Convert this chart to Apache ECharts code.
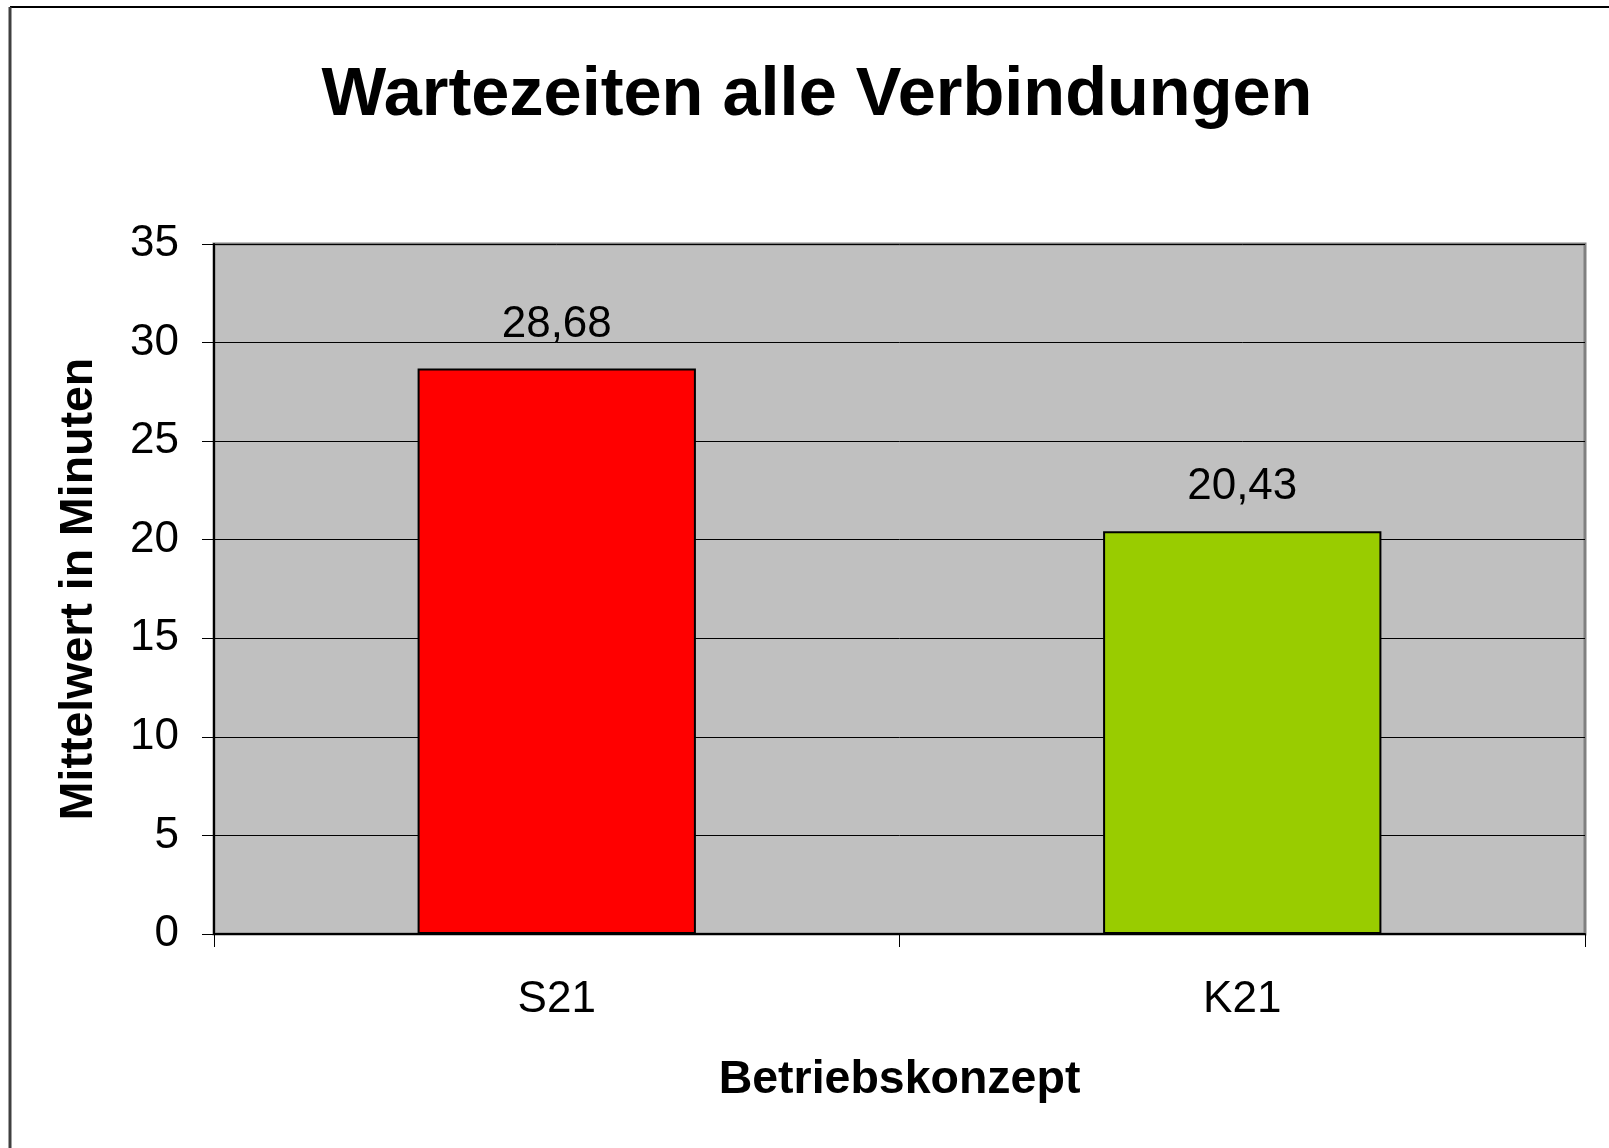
<!DOCTYPE html>
<html>
<head>
<meta charset="utf-8">
<script src="https://cdn.jsdelivr.net/npm/echarts@6/dist/echarts.min.js"></script>
<style>
html,body{margin:0;padding:0;background:#fff;}
#chart{width:1609px;height:1148px;}
</style>
</head>
<body>
<div id="chart"></div>
<script>
const categories = ['S21', 'K21'];
const values = [28.68, 20.43];
const barColors = ['#FF0000', '#99CC00'];
const titleText = 'Wartezeiten alle Verbindungen';
const yAxisTitle = 'Mittelwert in Minuten';
const xAxisTitle = 'Betriebskonzept';

const FONT = "'Liberation Sans', Arial, sans-serif";
const chart = echarts.init(document.getElementById('chart'), null, {renderer: 'canvas'});

chart.setOption({
  backgroundColor: '#ffffff',
  animation: false,
  title: {
    text: titleText,
    left: 812,
    textAlign: 'center',
    top: 57,
    textStyle: {fontFamily: FONT, fontSize: 68.5, fontWeight: 'bold', color: '#000'}
  },
  graphic: [
    {type: 'line', shape: {x1: 10, y1: 7, x2: 1609, y2: 7}, style: {stroke: '#000', lineWidth: 2}},
    {type: 'line', shape: {x1: 10, y1: 7, x2: 10, y2: 1148}, style: {stroke: '#404040', lineWidth: 3}}
  ],
  grid: {
    left: 214, top: 244, right: 24, bottom: 214,
    show: true,
    backgroundColor: '#C0C0C0',
    borderColor: '#808080',
    borderWidth: 3
  },
  xAxis: {
    type: 'category',
    data: categories,
    name: xAxisTitle,
    nameLocation: 'middle',
    nameGap: 123,
    nameTextStyle: {fontFamily: FONT, fontSize: 46.5, fontWeight: 'bold', color: '#000'},
    axisLine: {show: true, lineStyle: {color: '#000', width: 2}},
    axisTick: {show: true, alignWithLabel: false, length: 13, lineStyle: {color: '#000', width: 1}},
    axisLabel: {margin: 44, fontFamily: FONT, fontSize: 44, color: '#000'},
    splitLine: {show: false}
  },
  yAxis: {
    type: 'value',
    min: 0, max: 35, interval: 5,
    name: yAxisTitle,
    nameLocation: 'middle',
    nameGap: 111,
    nameRotate: 90,
    nameTextStyle: {fontFamily: FONT, fontSize: 46.5, fontWeight: 'bold', color: '#000'},
    axisLine: {show: true, lineStyle: {color: '#000', width: 2}},
    axisTick: {show: true, length: 12, lineStyle: {color: '#000', width: 1}},
    axisLabel: {margin: 35, fontFamily: FONT, fontSize: 44, color: '#000'},
    splitLine: {show: true, lineStyle: {color: '#000', width: 1}}
  },
  series: [{
    type: 'bar',
    barWidth: '40.6%',
    data: values.map((v, i) => ({value: v, itemStyle: {color: barColors[i]}})),
    itemStyle: {borderColor: '#000', borderWidth: 2},
    label: {
      show: true,
      position: 'top',
      distance: 22,
      fontFamily: FONT,
      fontSize: 44,
      color: '#000',
      formatter: p => p.value.toFixed(2).replace('.', ',')
    }
  }]
});
</script>
</body>
</html>
